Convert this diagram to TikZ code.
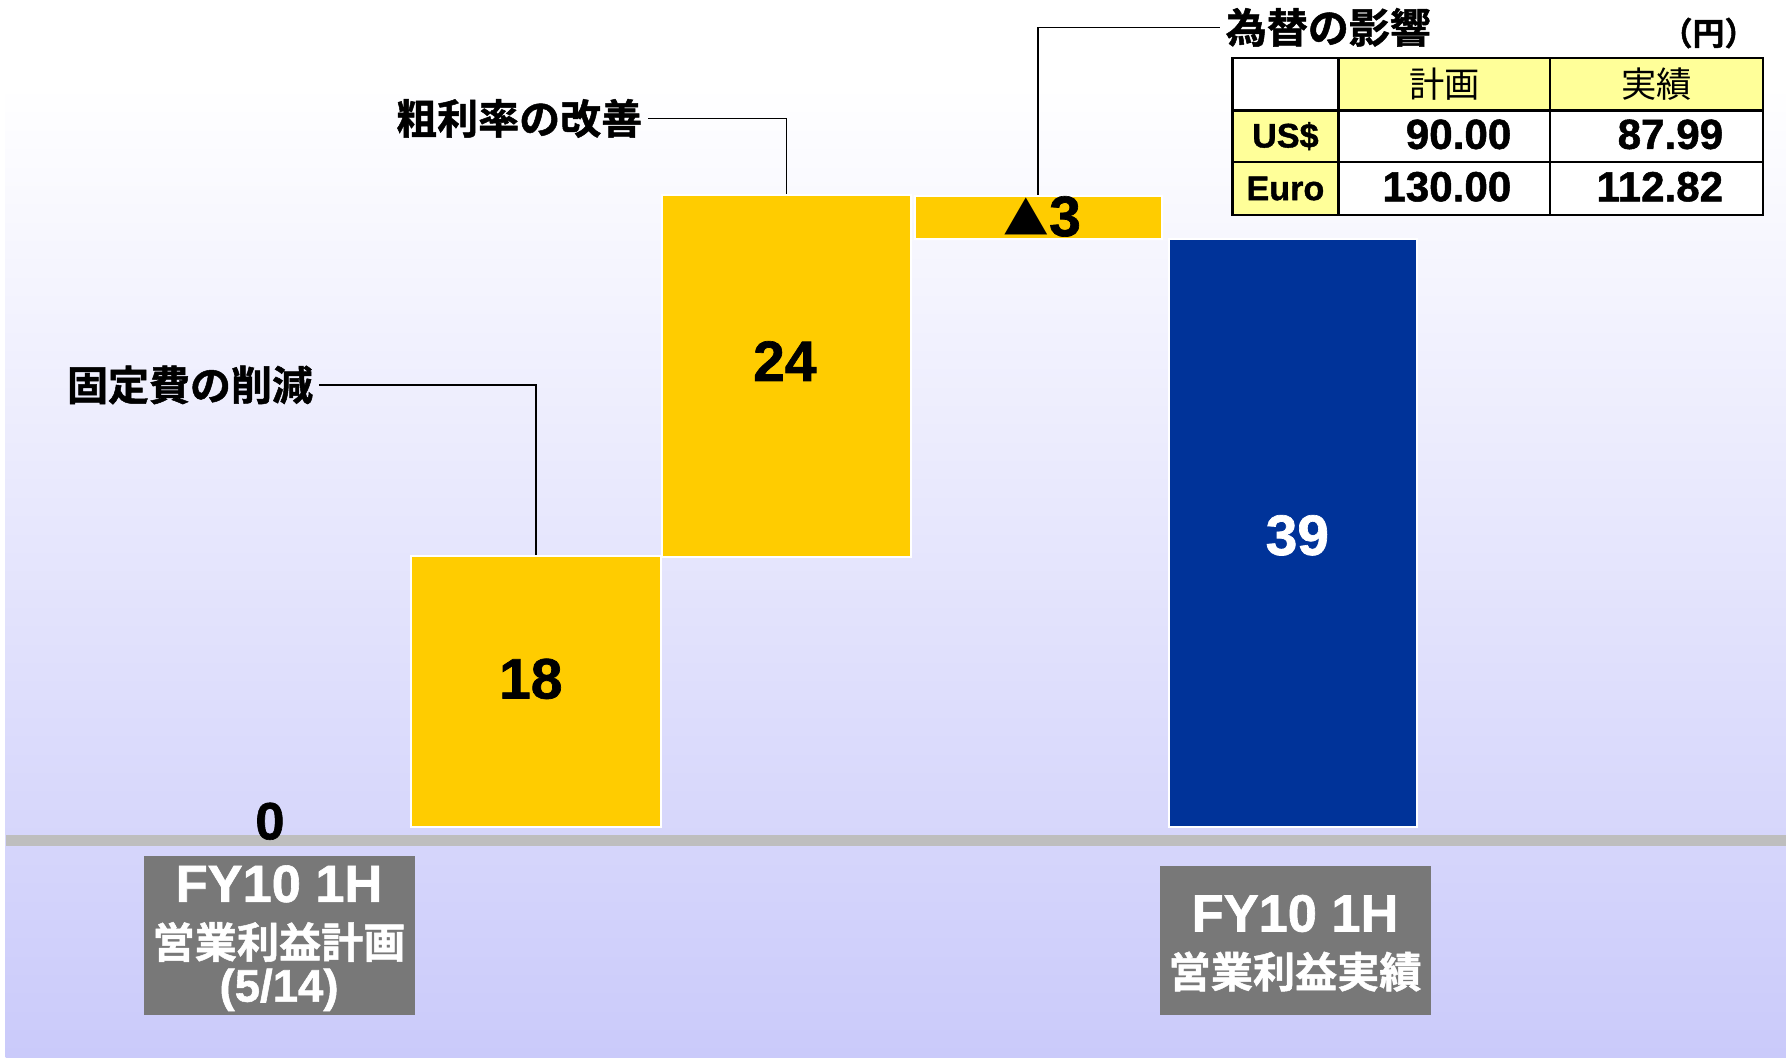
\documentclass[tikz,border=0pt]{standalone}
\usepackage{fontspec}
\setmainfont{Liberation Sans}[BoldFeatures={FakeBold=1.2}]
\newfontfamily\jp{Noto Sans CJK JP}[BoldFont=* Bold, BoldFeatures={FakeBold=1.2}]
\newfontfamily\jpr{Noto Sans CJK JP}
\definecolor{barY}{HTML}{FFCC00}
\definecolor{barB}{HTML}{003399}
\definecolor{boxG}{HTML}{787878}
\definecolor{axisG}{HTML}{BEBEBE}
\definecolor{lavB}{HTML}{CACAFA}
\definecolor{cellY}{HTML}{FFFF99}
\pgfdeclareverticalshading{bgshade}{100bp}{color(0bp)=(lavB); color(25bp)=(lavB); color(71bp)=(white); color(100bp)=(white)}
\tikzset{
  bar/.style={draw=white, line width=2pt, anchor=north west, inner sep=0pt},
  greybox/.style={fill=boxG, anchor=north west, inner sep=0pt},
  cell/.style={draw=black, line width=2pt, anchor=north west, inner sep=0pt},
  callout/.style={font=\jp\bfseries\fontsize{36}{40}\selectfont, inner sep=5pt},
  barnum/.style={font=\bfseries\fontsize{50}{56}\selectfont, inner sep=0pt},
  tval/.style={font=\bfseries\fontsize{37}{40}\selectfont, inner sep=0pt},
  lead/.style={draw=black, line width=1.4pt}
}
\begin{document}
\begin{tikzpicture}[x=1pt,y=-1pt]
\useasboundingbox (0,0) rectangle (1568,928);
\fill[white] (0,0) rectangle (1568,928);
\shade[shading=bgshade] (5,0) rectangle (1568,928);
\fill[axisG] (5,733) rectangle (1568,743);
% bars
\node[bar, fill=barY, minimum width=219pt, minimum height=238pt] (b18) at (360,487) {};
\node[bar, fill=barY, minimum width=219pt, minimum height=318pt] (b24) at (580,170) {};
\node[bar, fill=barY, minimum width=217pt, minimum height=38pt] (b3) at (802,171) {};
\node[bar, fill=barB, minimum width=218pt, minimum height=516pt] (b39) at (1025,209) {};
% bar labels
\node[barnum] (l18) at (466,596) {18};
\node[barnum] (l24) at (689,317) {24};
\node[barnum, text=white] (l39) at (1139,470) {39};
\node[barnum] (l3) at (915,190) {{\jpr\fontsize{40}{44}\selectfont ▲}3};
\node[barnum, font=\bfseries\fontsize{46}{50}\selectfont] (l0) at (237,721) {0};
% callouts
\node[callout, anchor=east] (c1) at (280,338) {固定費の削減};
\node[callout, anchor=east] (c2) at (569,104) {粗利率の改善};
\node[callout, anchor=west] (c3) at (1071,24) {為替の影響};
\draw[lead] (c1.east) -| (b18.north);
\draw[lead] (c2.east) -| (b24.north);
\draw[lead] (c3.west) -| (b3.north);
\node[font=\jp\bfseries\fontsize{28}{30}\selectfont, inner sep=0pt] (unit) at (1500,29) {（円）};
% table
\node[cell, fill=white, minimum width=93pt, minimum height=46pt] (t11) at (1081,50) {};
\node[cell, fill=cellY, minimum width=186pt, minimum height=46pt] (t12) at (1174,50) {};
\node[cell, fill=cellY, minimum width=187pt, minimum height=46pt] (t13) at (1360,50) {};
\node[cell, fill=cellY, minimum width=93pt, minimum height=45pt] (t21) at (1081,96) {};
\node[cell, fill=white, minimum width=186pt, minimum height=45pt] (t22) at (1174,96) {};
\node[cell, fill=white, minimum width=187pt, minimum height=45pt] (t23) at (1360,96) {};
\node[cell, fill=cellY, minimum width=93pt, minimum height=47pt] (t31) at (1081,141) {};
\node[cell, fill=white, minimum width=186pt, minimum height=47pt] (t32) at (1174,141) {};
\node[cell, fill=white, minimum width=187pt, minimum height=47pt] (t33) at (1360,141) {};
\node[font=\jpr\fontsize{31}{34}\selectfont, inner sep=0pt] (h1) at (t12.center) {計画};
\node[font=\jpr\fontsize{31}{34}\selectfont, inner sep=0pt] (h2) at (t13.center) {実績};
\node[font=\bfseries\fontsize{30}{34}\selectfont, inner sep=0pt] (r1) at (t21.center) {US\$};
\node[font=\bfseries\fontsize{30}{34}\selectfont, inner sep=0pt] (r2) at (t31.center) {Euro};
\node[tval, anchor=east] (v1) at (1327,118) {90.00};
\node[tval, anchor=east] (v2) at (1513,118) {87.99};
\node[tval, anchor=east] (v3) at (1327,164) {130.00};
\node[tval, anchor=east] (v4) at (1513,164) {112.82};
% grey boxes
\node[greybox, minimum width=238pt, minimum height=140pt] (g1) at (126,751) {};
\node[greybox, minimum width=238pt, minimum height=131pt] (g2) at (1018,760) {};
\node[font=\bfseries\fontsize{46}{50}\selectfont, text=white, inner sep=0pt] (g1a) at (245,776) {FY10 1H};
\node[font=\jp\bfseries\fontsize{37}{40}\selectfont, text=white, inner sep=0pt] (g1b) at (245,827) {営業利益計画};
\node[font=\bfseries\fontsize{40}{44}\selectfont, text=white, inner sep=0pt] (g1c) at (245,869) {(5/14)};
\node[font=\bfseries\fontsize{46}{50}\selectfont, text=white, inner sep=0pt] (g2a) at (1137,802) {FY10 1H};
\node[font=\jp\bfseries\fontsize{37}{40}\selectfont, text=white, inner sep=0pt] (g2b) at (1137,853) {営業利益実績};
\end{tikzpicture}
\end{document}
